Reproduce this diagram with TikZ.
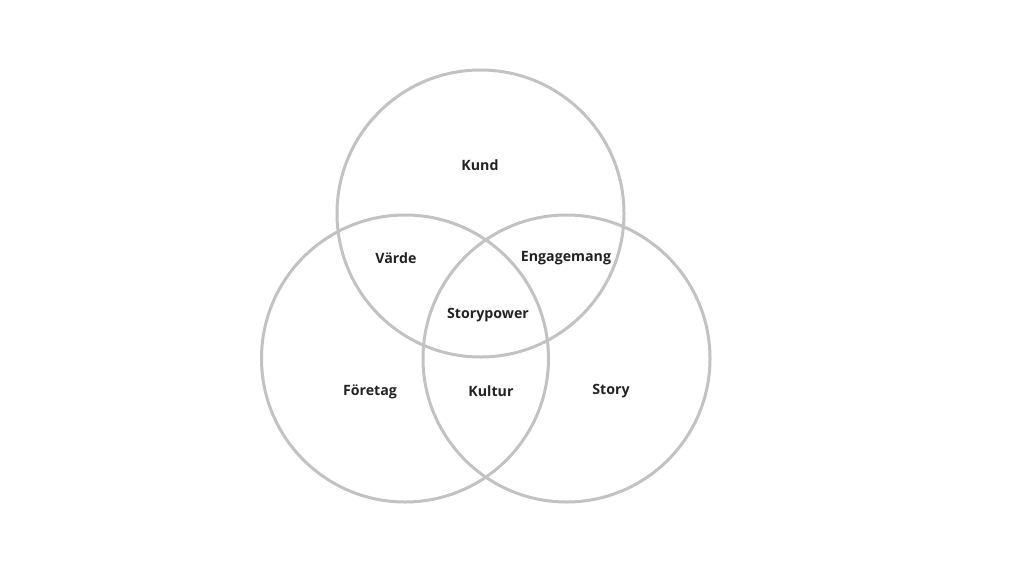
\documentclass[tikz,border=0pt]{standalone}
\usepackage{fontspec}
\setmainfont{Open Sans}
\begin{document}
\begin{tikzpicture}[x=1pt,y=-1pt,
  ring/.style={draw=ringgray,line width=3pt},
  lbl/.style={font=\bfseries\fontsize{14.2}{17}\selectfont,text=labeltext,inner sep=0pt}]
\definecolor{ringgray}{HTML}{C2C2C2}
\definecolor{labeltext}{HTML}{222222}
\useasboundingbox (0,0) rectangle (1024,576);
\node[ring,circle,minimum size=287pt,inner sep=0pt] (kundc) at (480.5,213.5) {};
\node[ring,circle,minimum size=287pt,inner sep=0pt] (foretagc) at (405,358.5) {};
\node[ring,circle,minimum size=287pt,inner sep=0pt] (storyc) at (566.5,358.5) {};
\node[lbl] (kund) at (480,165.5) {Kund};
\node[lbl] (varde) at (396,258) {Värde};
\node[lbl] (eng) at (566,258) {Engagemang};
\node[lbl] (sp) at (488,315) {Storypower};
\node[lbl] (foretag) at (370,391.5) {Företag};
\node[lbl] (kultur) at (491,391) {Kultur};
\node[lbl] (story) at (611,391.5) {Story};
\end{tikzpicture}
\end{document}
